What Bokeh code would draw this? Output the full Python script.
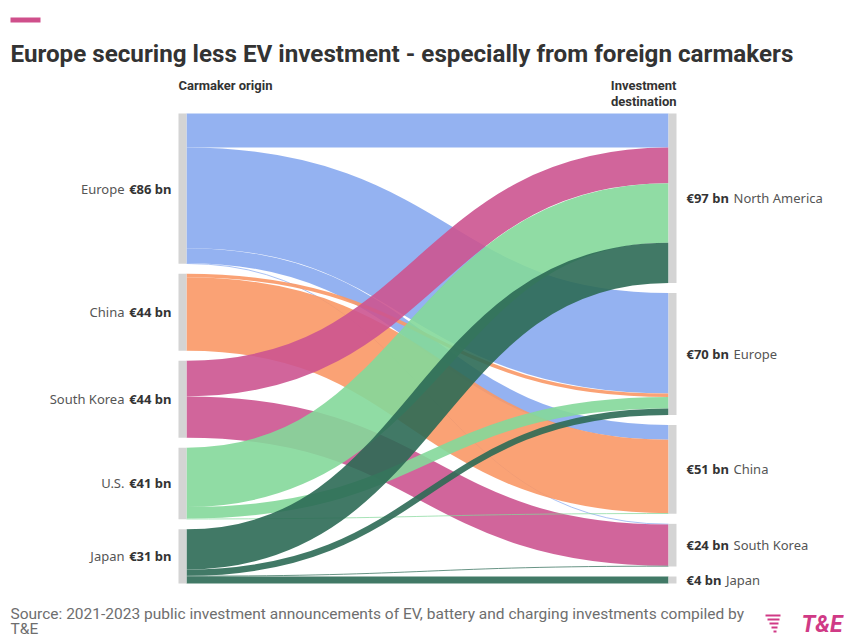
import numpy as np
from bokeh.plotting import figure
from bokeh.models import Range1d, ColumnDataSource
from bokeh.core.properties import value
from bokeh.embed import file_html
from bokeh.resources import INLINE

# ---------------- data ----------------
title = "Europe securing less EV investment - especially from foreign carmakers"
source_note_1 = "Source: 2021-2023 public investment announcements of EV, battery and charging investments compiled by"
source_note_2 = "T&E"

origins = ["Europe", "China", "South Korea", "U.S.", "Japan"]
origin_labels = ["€86 bn", "€44 bn", "€44 bn", "€41 bn", "€31 bn"]
destinations = ["North America", "Europe", "China", "South Korea", "Japan"]
destination_labels = ["€97 bn", "€70 bn", "€51 bn", "€24 bn", "€4 bn"]
origin_colors = ["#88aaf0", "#fa9866", "#cc5490", "#84d89a", "#2c6a55"]

# investment flows, € bn: origin -> [North America, Europe, China, South Korea, Japan]
flow_europe = [19.5, 57.6, 8.5, 0.4, 0.0]
flow_china = [0.0, 2.0, 42.0, 0.0, 0.0]
flow_korea = [20.4, 0.0, 0.0, 23.6, 0.0]
flow_us = [34.0, 6.6, 0.4, 0.0, 0.0]
flow_japan = [23.0, 3.6, 0.0, 0.4, 4.0]
flows = [flow_europe, flow_china, flow_korea, flow_us, flow_japan]

# ---------------- layout ----------------
W, H = 844, 639
p = figure(width=W, height=H, x_range=Range1d(0, W), y_range=Range1d(H, 0),
           output_backend="svg", toolbar_location=None,
           x_axis_type=None, y_axis_type=None, min_border=0,
           outline_line_color=None, background_fill_color="white",
           border_fill_color="white")
p.grid.visible = False

TOP, BOTTOM, GAP = 113.0, 583.0, 10.0
XL0, XL1 = 178.0, 186.0     # left node bar
XR0, XR1 = 668.0, 676.0     # right node bar

F = np.array(flows, dtype=float)
left_tot = F.sum(axis=1)
right_tot = F.sum(axis=0)
k = (BOTTOM - TOP - GAP * (len(origins) - 1)) / max(left_tot.sum(), right_tot.sum())

def stack(tots):
    y0s, y = [], TOP
    for t in tots:
        y0s.append(y)
        y += t * k + GAP
    return np.array(y0s)

left_y0 = stack(left_tot)
right_y0 = stack(right_tot)

# links
src_off = np.zeros(len(origins))
tgt_off = np.zeros(len(destinations))
link = dict(x0=[], y0=[], x1=[], y1=[], cx0=[], cy0=[], cx1=[], cy1=[], w=[], c=[])
pos_s = {}
pos_t = {}
for i in range(len(origins)):
    for j in range(len(destinations)):
        v = F[i, j]
        if v <= 0:
            continue
        pos_s[(i, j)] = src_off[i]
        src_off[i] += v * k
for j in range(len(destinations)):
    for i in range(len(origins)):
        v = F[i, j]
        if v <= 0:
            continue
        pos_t[(i, j)] = tgt_off[j]
        tgt_off[j] += v * k
xm = (XL1 + XR0) / 2
for i in range(len(origins)):
    for j in range(len(destinations)):
        v = F[i, j]
        if v <= 0:
            continue
        w = v * k
        ys = left_y0[i] + pos_s[(i, j)] + w / 2
        yt = right_y0[j] + pos_t[(i, j)] + w / 2
        link["x0"].append(XL1); link["y0"].append(ys)
        link["x1"].append(XR0); link["y1"].append(yt)
        link["cx0"].append(xm); link["cy0"].append(ys)
        link["cx1"].append(xm); link["cy1"].append(yt)
        link["w"].append(max(w, 0.8)); link["c"].append(origin_colors[i])

p.bezier(x0="x0", y0="y0", x1="x1", y1="y1", cx0="cx0", cy0="cy0", cx1="cx1", cy1="cy1",
         line_width="w", line_color="c", line_alpha=0.9, line_cap="butt",
         source=ColumnDataSource(link))

# node bars
p.quad(left=XL0, right=XL1, top=left_y0, bottom=left_y0 + left_tot * k,
       fill_color="#d4d4d4", line_color=None)
p.quad(left=XR0, right=XR1, top=right_y0, bottom=right_y0 + right_tot * k,
       fill_color="#d4d4d4", line_color=None)

# ---------------- labels ----------------
LAB_SIZE = 13
BOLD_W = {"€": 7.0, " ": 3.3, "b": 7.7, "n": 7.7}
def bold_width(s):
    return sum(BOLD_W.get(ch, 7.0) for ch in s) * LAB_SIZE / 12.0

lab_font = value("Noto Sans")
left_mid = left_y0 + left_tot * k / 2
right_mid = right_y0 + right_tot * k / 2
LX = 171.0
p.text(x=[LX] * len(origins), y=left_mid, text=origin_labels, text_font=lab_font,
       text_font_size=f"{LAB_SIZE}px", text_font_style="bold", text_color="#333333",
       text_align="right", text_baseline="middle")
p.text(x=[LX - bold_width(s) - 4 for s in origin_labels], y=left_mid, text=origins,
       text_font=lab_font, text_font_size=f"{LAB_SIZE}px", text_color="#555555",
       text_align="right", text_baseline="middle")
RX = 686.0
p.text(x=[RX] * len(destinations), y=right_mid, text=destination_labels, text_font=lab_font,
       text_font_size=f"{LAB_SIZE}px", text_font_style="bold", text_color="#333333",
       text_align="left", text_baseline="middle")
p.text(x=[RX + bold_width(s) + 4 for s in destination_labels], y=right_mid, text=destinations,
       text_font=lab_font, text_font_size=f"{LAB_SIZE}px", text_color="#555555",
       text_align="left", text_baseline="middle")

# column headers
hdr_font = value("Roboto")
p.text(x=[XL0], y=[85], text=["Carmaker origin"], text_font=hdr_font, text_font_size="13px",
       text_font_style="bold", text_color="#333333", text_baseline="middle")
p.text(x=[XR1, XR1], y=[85, 101], text=["Investment", "destination"], text_font=hdr_font,
       text_font_size="13px", text_font_style="bold", text_color="#333333",
       text_align="right", text_baseline="middle")

# title + accent bar
p.quad(left=10, right=40, top=17, bottom=22, fill_color="#cf4f8b", line_color=None)
p.text(x=[10], y=[53], text=[title], text_font=value("Roboto"), text_font_size="24.2px",
       text_font_style="bold", text_color="#333333", text_baseline="alphabetic")

# source
p.text(x=[10, 10], y=[613, 628], text=[source_note_1, source_note_2], text_font=value("Roboto"),
       text_font_size="15.5px", text_color="#6e6e6e", text_baseline="middle")

# logo
p.text(x=[842], y=[624], text=["T&E"], text_font=value("Roboto"), text_font_size="23px",
       text_font_style="bold italic", text_color="#d03a86", text_align="right",
       text_baseline="middle")
p.segment(x0=[765, 767, 769, 771, 773], y0=[615, 619, 623, 627, 631],
          x1=[780, 779, 778, 777, 776], y1=[615, 619, 623, 627, 631],
          line_color="#d03a86", line_width=2)

open("out.html", "w").write(file_html(p, INLINE))
